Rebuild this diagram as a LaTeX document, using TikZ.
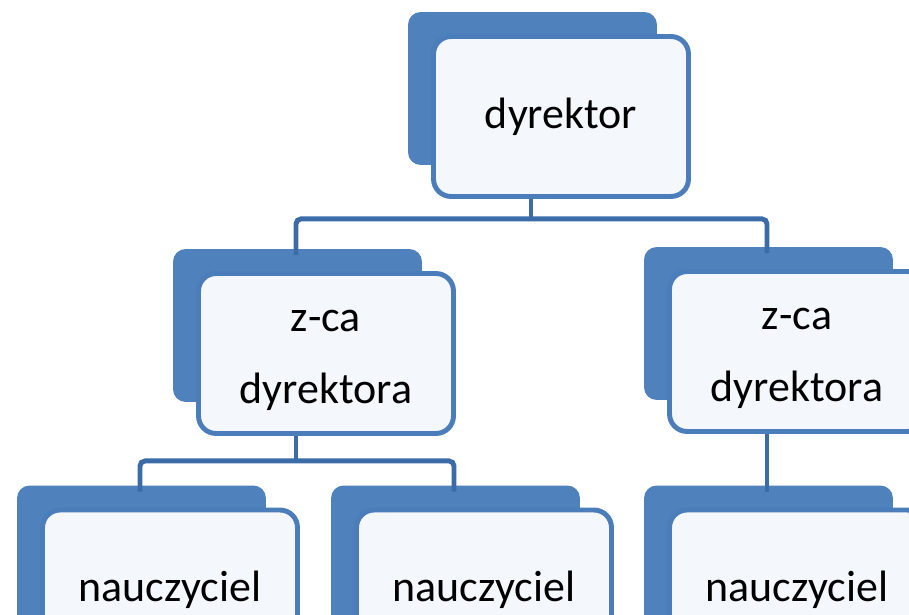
\documentclass[tikz,border=0pt]{standalone}
\usepackage{fontspec}
\setmainfont{Carlito}
\usetikzlibrary{backgrounds}
\definecolor{back}{HTML}{4F81BD}
\definecolor{edge}{HTML}{4A7DBA}
\definecolor{link}{HTML}{3C6CA8}
\definecolor{paper}{HTML}{F4F8FC}
\begin{document}
\begin{tikzpicture}[x=0.02cm,y=0.02cm,
  card/.style={draw=edge,line width=2.8pt,fill=paper,rounded corners=3.5mm,
               minimum width=5.1cm,minimum height=3.2cm,inner sep=0pt,
               align=center,font=\fontsize{25}{41}\selectfont},
  shade/.style={fill=back,rounded corners=2.5mm},
  wire/.style={draw=link,line width=2.8pt,rounded corners=1mm}]
  \useasboundingbox (0,0) rectangle (909,615);
  \clip (0,0) rectangle (909,615);
  \node[card] (top) at (561,498.5) {dyrektor};
  \node[card] (zl) at (326,261.5) {\rule{0pt}{20pt}z-ca\\dyrektora};
  \node[card] (zr) at (797,263.5) {\rule{0pt}{20pt}z-ca\\dyrektora};
  \node[card] (nl) at (170,25) {nauczyciel};
  \node[card] (nm) at (484,25) {nauczyciel};
  \node[card] (nr) at (797,25) {nauczyciel};
  % blue cards behind
  \begin{scope}[on background layer]
    \fill[white] (0,0) rectangle (909,615);
    \foreach \n in {top,zl,zr,nl,nm,nr}
      \fill[shade] ([shift={(-23,22)}]\n.north west) rectangle ([shift={(-34,34)}]\n.south east);
  \end{scope}
  % connectors
  \draw[wire] ([shift={(-30,0)}]top.south) -- ++(0,-20) coordinate (bus1);
  \draw[wire] (bus1) -| ([shift={(-30,16)}]zl.north);
  \draw[wire] (bus1) -| ([shift={(-30,16)}]zr.north);
  \draw[wire] ([shift={(-30,0)}]zl.south) -- ++(0,-25) coordinate (bus2);
  \draw[wire] (bus2) -| ([shift={(-30,16)}]nl.north);
  \draw[wire] (bus2) -| ([shift={(-30,16)}]nm.north);
  \draw[wire] ([shift={(-30,0)}]zr.south) -- ([shift={(-30,16)}]nr.north);
\end{tikzpicture}
\end{document}
